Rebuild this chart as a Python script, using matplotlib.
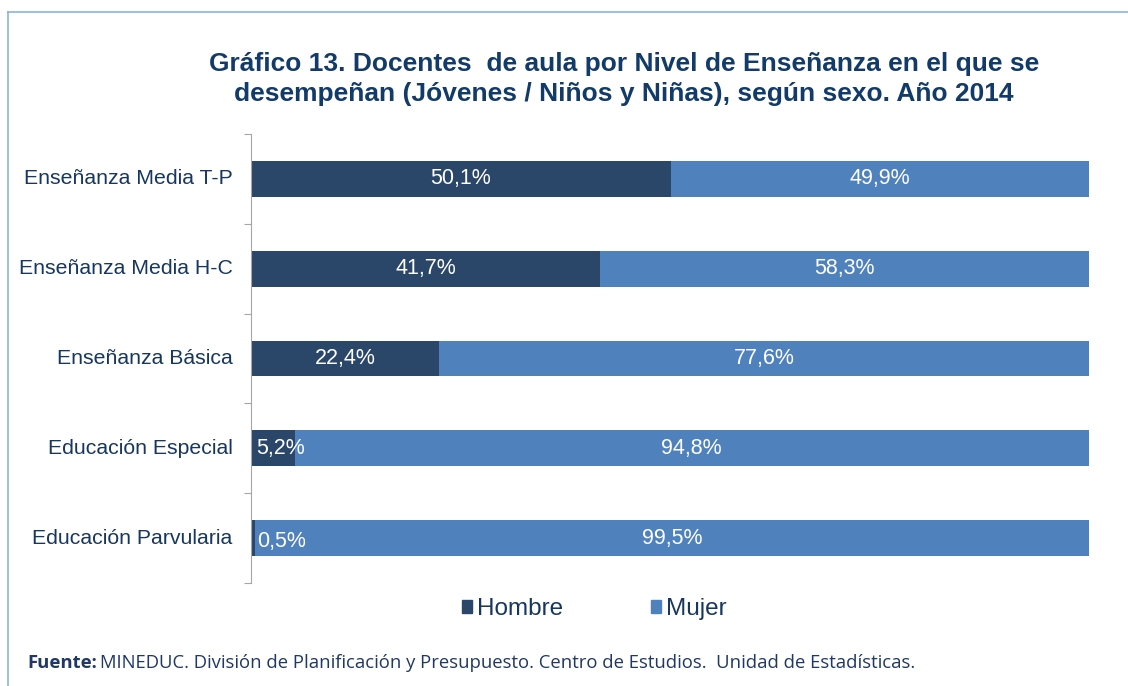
import matplotlib
matplotlib.use("Agg")
import matplotlib.pyplot as plt
from matplotlib.lines import Line2D
from matplotlib.patches import Patch

categories = ["Enseñanza Media T-P", "Enseñanza Media H-C", "Enseñanza Básica",
              "Educación Especial", "Educación Parvularia"]
hombre = [50.1, 41.7, 22.4, 5.2, 0.5]
mujer = [49.9, 58.3, 77.6, 94.8, 99.5]
series_names = ["Hombre", "Mujer"]
title = "Gráfico 13. Docentes  de aula por Nivel de Enseñanza en el que se\ndesempeñan (Jóvenes / Niños y Niñas), según sexo. Año 2014"

c_h = "#2A4668"
c_m = "#4F81BD"
txt = "#17375E"
title_c = "#123B6A"

plt.rcParams['font.family'] = ['Liberation Sans', 'DejaVu Sans']
fig = plt.figure(figsize=(11.28, 6.86), dpi=100)
ax = fig.add_axes([251/1128, 1-583/686, (1089-251)/1128, (583-134)/686])

y = list(range(len(categories)))[::-1]
ax.barh(y, hombre, height=0.4, color=c_h)
ax.barh(y, mujer, left=hombre, height=0.4, color=c_m)
ax.set_xlim(0, 100)
ax.set_ylim(-0.5, len(categories)-0.5)

for yi, h, m in zip(y, hombre, mujer):
    lab_h = f"{h:.1f}%".replace(".", ",")
    lab_m = f"{m:.1f}%".replace(".", ",")
    if h < 10:
        ax.text(h + 0.2 if h < 2 else 0.6, yi - (0.04 if h < 2 else 0), lab_h,
                ha="left", va="center", color="white", fontsize=15.5)
    else:
        ax.text(h/2, yi, lab_h, ha="center", va="center", color="white", fontsize=15.5)
    ax.text(h + m/2, yi, lab_m, ha="center", va="center", color="white", fontsize=15.5)

for s in ["top", "right", "bottom"]:
    ax.spines[s].set_visible(False)
ax.spines["left"].set_color("#A6A6A6")
ax.set_xticks([])
ax.set_yticks([i - 0.5 for i in range(len(categories)+1)])
ax.set_yticklabels([])
ax.tick_params(axis="y", length=5, color="#A6A6A6", direction="out")
for yi, c in zip(y, categories):
    ax.text(-0.022, yi, c, transform=ax.get_yaxis_transform(), ha="right", va="center",
            fontsize=15.3, color=txt)

fig.text(624/1128, 1-79/686, title, ha="center", va="center", fontsize=19,
         fontweight="bold", color=title_c, linespacing=1.35)

handles = [Patch(color=c_h), Patch(color=c_m)]
fig.legend(handles, series_names, loc="center", bbox_to_anchor=(594/1128, 1-609/686),
           ncol=2, frameon=False, fontsize=17.5, handlelength=0.42, handleheight=0.42,
           handletextpad=0.2, columnspacing=3.6, labelcolor=txt)

foot_fam = ["Open Sans", "DejaVu Sans"]
t1 = fig.text(27/1128, 1-663/686, "Fuente:", fontsize=13.3, fontweight="bold",
              color="#1F3864", family=foot_fam, va="center")
fig.canvas.draw()
bb = t1.get_window_extent()
fig.text((bb.x1 + 3)/1128, 1-663/686,
         "MINEDUC. División de Planificación y Presupuesto. Centro de Estudios.  Unidad de Estadísticas.",
         fontsize=13.3, color="#1F3864", family=foot_fam, va="center")

border = "#8DB3E2"
fig.add_artist(Line2D([8/1128, 8/1128], [0, 1-12/686], transform=fig.transFigure, color=border, lw=1.2))
fig.add_artist(Line2D([8/1128, 1], [1-12/686, 1-12/686], transform=fig.transFigure, color=border, lw=1.2))

fig.savefig("out.png", dpi=100)
